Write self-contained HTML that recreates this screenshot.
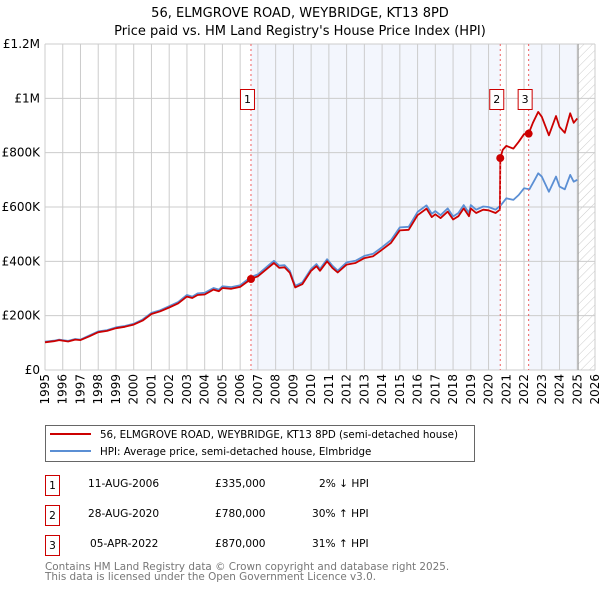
<!DOCTYPE html>
<html><head><meta charset="utf-8">
<style>
body{margin:0;background:#fff;font-family:"Liberation Sans","DejaVu Sans",sans-serif;}
svg text{font-family:"DejaVu Sans","Liberation Sans",sans-serif;}
</style></head>
<body>
<svg id="chart" width="600" height="590" viewBox="0 0 600 590" xmlns="http://www.w3.org/2000/svg">
<defs>
<pattern id="hatch" width="6" height="6" patternUnits="userSpaceOnUse" patternTransform="rotate(45)">
<line x1="0" y1="0" x2="0" y2="6" stroke="#ccc" stroke-width="1"/>
</pattern>
</defs>
<text x="300" y="17" font-size="13" text-anchor="middle">56, ELMGROVE ROAD, WEYBRIDGE, KT13 8PD</text>
<text x="300" y="35" font-size="13" text-anchor="middle">Price paid vs. HM Land Registry's House Price Index (HPI)</text>
<g id="shade"></g>
<g id="grid"></g>
<g id="lines"></g>
<g id="marks"></g>
<g id="axes"></g>
<g>
<rect x="45.5" y="425.5" width="429" height="36" fill="#fff" stroke="#666"/>
<line x1="50" y1="434" x2="91" y2="434" stroke="#cc0000" stroke-width="2"/>
<text x="100" y="438" font-size="10.3">56, ELMGROVE ROAD, WEYBRIDGE, KT13 8PD (semi-detached house)</text>
<line x1="50" y1="451" x2="91" y2="451" stroke="#5b8fd4" stroke-width="2"/>
<text x="100" y="455" font-size="10.3">HPI: Average price, semi-detached house, Elmbridge</text>
</g>
<g font-size="10.6">
<rect x="45.5" y="475.5" width="14" height="20" fill="#fff" stroke="#cc0000"/><text x="52.5" y="489" text-anchor="middle">1</text>
<text x="88" y="487">11-AUG-2006</text><text x="215" y="487">£335,000</text><text x="319" y="487">2% ↓ HPI</text>
<rect x="45.5" y="505.5" width="14" height="20" fill="#fff" stroke="#cc0000"/><text x="52.5" y="519" text-anchor="middle">2</text>
<text x="88" y="517">28-AUG-2020</text><text x="215" y="517">£780,000</text><text x="312" y="517">30% ↑ HPI</text>
<rect x="45.5" y="535.5" width="14" height="20" fill="#fff" stroke="#cc0000"/><text x="52.5" y="549" text-anchor="middle">3</text>
<text x="90" y="547">05-APR-2022</text><text x="215" y="547">£870,000</text><text x="312" y="547">31% ↑ HPI</text>
</g>
<text x="45" y="570" font-size="10.4" fill="#777">Contains HM Land Registry data © Crown copyright and database right 2025.</text>
<text x="45" y="580" font-size="10.4" fill="#777">This data is licensed under the Open Government Licence v3.0.</text>
</svg>
<script>
const yTicks=[0,200000,400000,600000,800000,1000000,1200000];
const yTickLabels=["£0","£200K","£400K","£600K","£800K","£1M","£1.2M"];
const xTicks=[1995,1996,1997,1998,1999,2000,2001,2002,2003,2004,2005,2006,2007,2008,2009,2010,2011,2012,2013,2014,2015,2016,2017,2018,2019,2020,2021,2022,2023,2024,2025,2026];
const saleYears=[2006.61,2020.66,2022.26];
const salePrices=[335000,780000,870000];
const saleLabels=["1","2","3"];
const hpiYears=[1995,1995.5,1995.8,1996.3,1996.7,1997,1997.5,1998,1998.5,1999,1999.5,2000,2000.5,2001,2001.5,2002,2002.5,2003,2003.3,2003.6,2004,2004.5,2004.8,2005,2005.5,2006,2006.6,2007,2007.5,2007.9,2008.2,2008.5,2008.8,2009.1,2009.3,2009.5,2010,2010.3,2010.5,2010.9,2011.2,2011.5,2012,2012.5,2013,2013.5,2014,2014.5,2015,2015.5,2016,2016.5,2016.8,2017,2017.3,2017.7,2018,2018.3,2018.6,2018.9,2019,2019.3,2019.7,2020,2020.4,2020.7,2021,2021.4,2021.7,2022,2022.3,2022.6,2022.8,2023,2023.4,2023.8,2024,2024.3,2024.6,2024.8,2025];
const hpiValues=[104000,108000,112000,107000,114000,112000,127000,142000,147000,157000,162000,170000,186000,210000,220000,235000,250000,276000,270000,282000,284000,302000,296000,308000,305000,312000,342000,352000,380000,402000,384000,386000,365000,310000,316000,322000,372000,390000,372000,408000,384000,366000,396000,402000,420000,428000,452000,478000,525000,527000,582000,606000,575000,585000,570000,595000,565000,578000,607000,578000,607000,590000,602000,600000,590000,607000,632000,626000,644000,669000,665000,700000,724000,712000,656000,712000,675000,665000,718000,693000,700000];
const priceYears=[1995,1995.5,1995.8,1996.3,1996.7,1997,1997.5,1998,1998.5,1999,1999.5,2000,2000.5,2001,2001.5,2002,2002.5,2003,2003.3,2003.6,2004,2004.5,2004.8,2005,2005.5,2006,2006.61,2007,2007.5,2007.9,2008.2,2008.5,2008.8,2009.1,2009.3,2009.5,2010,2010.3,2010.5,2010.9,2011.2,2011.5,2012,2012.5,2013,2013.5,2014,2014.5,2015,2015.5,2016,2016.5,2016.8,2017,2017.3,2017.7,2018,2018.3,2018.6,2018.9,2019,2019.3,2019.7,2020,2020.4,2020.64,2020.66,2020.8,2021,2021.4,2021.7,2022,2022.26,2022.5,2022.8,2023,2023.4,2023.8,2024,2024.3,2024.6,2024.8,2025];
const priceValues=[102000,106000,110000,105000,112000,110000,124000,139000,144000,154000,159000,167000,182000,206000,216000,230000,245000,270000,265000,276000,278000,296000,290000,302000,299000,306000,335000,345000,372000,394000,376000,378000,358000,304000,310000,316000,365000,382000,365000,400000,376000,359000,388000,394000,412000,419000,443000,468000,514000,516000,570000,594000,563000,573000,559000,583000,554000,566000,595000,566000,595000,578000,590000,588000,578000,590000,780000,810000,825000,815000,840000,868000,870000,910000,950000,932000,864000,935000,895000,873000,945000,910000,926000];

const NS="http://www.w3.org/2000/svg";
const X0=45,X1=595,Y0=370,Y1=44;
const xs=y=>X0+(y-1995)/(2026-1995)*(X1-X0);
const ys=v=>Y0-v/1200000*(Y0-Y1);
function mk(tag,attrs,parent){const e=document.createElementNS(NS,tag);for(const k in attrs)e.setAttribute(k,attrs[k]);document.getElementById(parent).appendChild(e);return e;}

let r=mk('rect',{x:xs(saleYears[0]),y:Y1,width:xs(saleYears[1])-xs(saleYears[0]),height:Y0-Y1,fill:'#eef2fc',opacity:0.7},'shade');


r=mk('rect',{x:xs(saleYears[2]),y:Y1,width:xs(2025)-xs(saleYears[2]),height:Y0-Y1,fill:'#eef2fc',opacity:0.7},'shade');


r=mk('rect',{x:xs(2025.05),y:Y1,width:X1-xs(2025.05),height:Y0-Y1,fill:'url(#hatch)'},'shade');



yTicks.forEach((t,i)=>{
  const l=mk('line',{x1:X0,x2:X1,y1:ys(t),y2:ys(t),stroke:'#ccc','stroke-width':1},'grid');
  
  
  const tx=mk('text',{x:40,y:ys(t)+4,'font-size':12,'text-anchor':'end'},'axes');
  tx.textContent=yTickLabels[i];
  
  
});
xTicks.forEach(t=>{
  const l=mk('line',{x1:xs(t),x2:xs(t),y1:Y1,y2:Y0,stroke:'#ccc','stroke-width':1},'grid');
  
  
  const tx=mk('text',{x:0,y:0,'font-size':12,'text-anchor':'end',transform:`translate(${xs(t)+4},374) rotate(-90)`},'axes');
  tx.textContent=t;
  
  
});
const fl=mk('line',{x1:xs(2025.05),x2:xs(2025.05),y1:Y1,y2:Y0,stroke:'#999','stroke-width':1},'grid');



function pts(xa,va){return xa.map((x,i)=>xs(x).toFixed(1)+','+ys(va[i]).toFixed(1)).join(' ');}
const hl=mk('polyline',{points:pts(hpiYears,hpiValues),fill:'none',stroke:'#5b8fd4','stroke-width':1.8,'stroke-linejoin':'round'},'lines');


const pl=mk('polyline',{points:pts(priceYears,priceValues),fill:'none',stroke:'#cc0000','stroke-width':1.8,'stroke-linejoin':'round'},'lines');



saleYears.forEach((y,i)=>{
  const vl=mk('line',{x1:xs(y),x2:xs(y),y1:Y1,y2:Y0,stroke:'#f06060','stroke-width':1,'stroke-dasharray':'2,3'},'marks');
  
  
  const c=mk('circle',{cx:xs(y),cy:ys(salePrices[i]),r:4,fill:'#cc0000'},'marks');
  
  
  const b=mk('rect',{x:xs(y)-10.5,y:89.5,width:14,height:20,fill:'#fff',stroke:'#cc0000'},'marks');
  
  
  const t=mk('text',{x:xs(y)-3.5,y:103,'font-size':11,'text-anchor':'middle'},'marks');
  t.textContent=saleLabels[i];
  
  
});
</script>
</body></html>
